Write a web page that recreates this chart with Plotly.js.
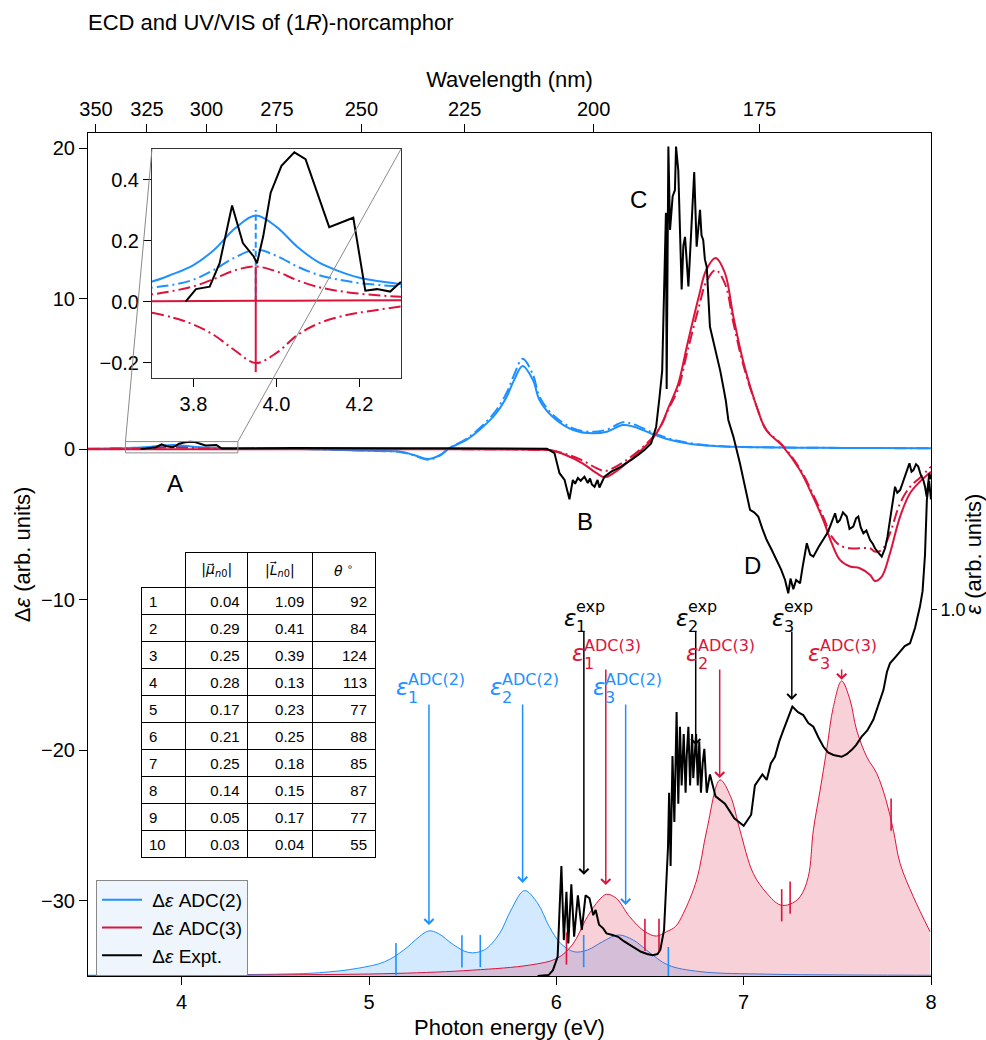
<!DOCTYPE html>
<html><head><meta charset="utf-8">
<script src="https://cdn.plot.ly/plotly-3.0.1.min.js"></script>
<style>html,body{margin:0;padding:0;background:#fff}</style>
</head><body><div id="chart" style="width:986px;height:1040px"></div>
<script>
// ---------------- DATA ----------------
// ECD (Δε, left axis) : [photon energy eV, value]
const ecdAdc2 = [[3.5,0.03],[3.6,0.045],[3.7,0.066],[3.75,0.09],[3.8,0.12],[3.85,0.17],[3.9,0.24],[3.95,0.282],[4.0,0.245],[4.05,0.18],[4.1,0.13],[4.15,0.1],[4.2,0.078],[4.3,0.057],[4.5,0.03],[4.7,0.0],[4.9,-0.07],[5.05,-0.12],[5.17,-0.18],[5.24,-0.39],[5.315,-0.66],[5.38,-0.39],[5.43,0.07],[5.52,0.61],[5.61,1.5],[5.68,2.4],[5.735,3.48],[5.775,4.6],[5.82,5.52],[5.875,4.6],[5.91,3.26],[5.98,2.15],[6.09,1.27],[6.195,1.05],[6.27,1.16],[6.355,1.6],[6.41,1.5],[6.5,1.07],[6.59,0.67],[6.68,0.43],[6.77,0.27],[6.9,0.17],[7.1,0.12],[7.4,0.09],[7.7,0.07],[8.0,0.06]];
const ecdAdc2Vel = [[3.5,0.02],[3.6,0.03],[3.7,0.046],[3.75,0.055],[3.8,0.072],[3.85,0.105],[3.9,0.145],[3.95,0.17],[4.0,0.15],[4.05,0.115],[4.1,0.088],[4.15,0.072],[4.2,0.061],[4.3,0.049],[4.5,0.03],[4.7,0.0],[4.9,-0.07],[5.05,-0.12],[5.17,-0.2],[5.24,-0.42],[5.315,-0.7],[5.38,-0.42],[5.43,0.08],[5.52,0.68],[5.61,1.62],[5.68,2.6],[5.735,3.75],[5.775,4.95],[5.82,6.0],[5.875,4.95],[5.91,3.5],[5.98,2.3],[6.09,1.38],[6.195,1.15],[6.27,1.3],[6.355,1.78],[6.41,1.66],[6.5,1.18],[6.59,0.74],[6.68,0.47],[6.77,0.3],[6.9,0.18],[7.1,0.12],[7.4,0.09],[7.7,0.07],[8.0,0.06]];
const ecdAdc3 = [[3.5,0],[5.5,0],[5.8,-0.02],[5.9,-0.04],[5.97,-0.08],[6.05,-0.39],[6.14,-0.94],[6.215,-1.6],[6.26,-1.87],[6.305,-1.6],[6.375,-0.94],[6.445,-0.16],[6.515,0.72],[6.56,1.6],[6.6,2.8],[6.65,4.3],[6.7,7.0],[6.76,10.1],[6.8,11.9],[6.85,12.7],[6.9,11.7],[6.945,8.8],[7.0,5.7],[7.07,2.8],[7.12,1.27],[7.21,0.17],[7.3,-1.39],[7.37,-3.16],[7.425,-4.71],[7.47,-6.25],[7.514,-7.36],[7.568,-7.8],[7.62,-7.91],[7.675,-8.36],[7.70,-8.76],[7.737,-8.47],[7.781,-6.92],[7.835,-4.48],[7.888,-2.93],[7.941,-2.16],[8.0,-1.5]];
const ecdAdc3Vel = [[3.5,0.01],[3.6,0.016],[3.7,0.024],[3.75,0.035],[3.8,0.05],[3.85,0.075],[3.9,0.103],[3.95,0.115],[4.0,0.099],[4.05,0.07],[4.1,0.048],[4.15,0.035],[4.2,0.026],[4.3,0.016],[4.6,0.005],[5.5,0],[5.8,-0.02],[5.9,-0.04],[5.97,-0.07],[6.05,-0.32],[6.14,-0.75],[6.215,-1.27],[6.26,-1.45],[6.305,-1.25],[6.375,-0.72],[6.445,-0.05],[6.515,0.8],[6.56,1.6],[6.6,2.7],[6.65,4.0],[6.7,6.5],[6.76,9.4],[6.8,11.1],[6.85,11.9],[6.9,11.0],[6.945,8.4],[7.0,5.5],[7.07,2.8],[7.12,1.3],[7.21,0.22],[7.3,-1.3],[7.37,-3.0],[7.425,-4.5],[7.47,-5.81],[7.514,-6.4],[7.568,-6.59],[7.62,-6.59],[7.675,-6.59],[7.70,-6.8],[7.737,-6.7],[7.781,-5.59],[7.835,-3.6],[7.888,-2.5],[7.941,-1.9],[8.0,-1.16]];
const ecdAdc3Mix = [[3.7,-0.036],[3.75,-0.052],[3.8,-0.075],[3.85,-0.11],[3.9,-0.16],[3.95,-0.201],[4.0,-0.168],[4.05,-0.11],[4.1,-0.072],[4.15,-0.05],[4.2,-0.036],[4.3,-0.016]];
const ecdExpt = [[3.781,0.0],[3.806,0.041],[3.839,0.049],[3.863,0.126],[3.893,0.315],[3.919,0.192],[3.945,0.148],[3.953,0.126],[3.968,0.214],[3.986,0.357],[4.012,0.445],[4.043,0.489],[4.07,0.467],[4.097,0.363],[4.127,0.244],[4.185,0.275],[4.214,0.036],[4.242,0.041],[4.274,0.033],[4.298,0.063],[4.4,0.05],[4.6,0.07],[4.8,0.05],[5.0,0.06],[5.2,0.05],[5.4,0.06],[5.6,0.05],[5.8,0.05],[5.95,0.03],[5.99,-0.26],[6.017,-1.6],[6.044,-2.05],[6.07,-3.33],[6.088,-2.05],[6.10,-2.3],[6.115,-1.92],[6.13,-2.1],[6.15,-1.83],[6.168,-2.25],[6.18,-1.95],[6.19,-2.35],[6.204,-2.5],[6.22,-2.05],[6.23,-2.55],[6.24,-2.27],[6.257,-1.83],[6.293,-1.5],[6.32,-1.35],[6.346,-1.16],[6.37,-0.95],[6.4,-0.72],[6.44,-0.35],[6.47,-0.06],[6.506,0.38],[6.533,1.49],[6.551,3.48],[6.565,5.2],[6.578,12.0],[6.585,15.7],[6.589,4.0],[6.598,20.1],[6.607,14.56],[6.616,16.1],[6.621,16.8],[6.633,17.2],[6.639,20.1],[6.651,18.5],[6.66,14.0],[6.669,10.6],[6.678,13.5],[6.687,14.1],[6.696,12.5],[6.705,10.8],[6.714,13.0],[6.722,15.0],[6.736,18.4],[6.749,13.45],[6.758,14.5],[6.767,15.9],[6.775,14.2],[6.784,13.9],[6.793,12.6],[6.803,12.1],[6.82,8.13],[6.838,7.2],[6.856,6.14],[6.875,5.2],[6.891,4.15],[6.905,3.2],[6.918,1.94],[6.945,0.83],[6.98,-0.94],[7.01,-2.6],[7.034,-4.04],[7.056,-4.2],[7.078,-4.48],[7.1,-5.3],[7.123,-6.04],[7.15,-6.7],[7.176,-7.36],[7.2,-8.0],[7.221,-8.69],[7.238,-9.58],[7.25,-8.6],[7.265,-9.3],[7.28,-8.69],[7.301,-8.91],[7.315,-7.8],[7.328,-6.92],[7.337,-6.25],[7.355,-7.0],[7.372,-7.14],[7.4,-6.5],[7.425,-6.04],[7.445,-5.6],[7.461,-5.15],[7.488,-4.26],[7.5,-4.9],[7.514,-4.71],[7.53,-4.2],[7.55,-4.48],[7.565,-5.3],[7.585,-5.15],[7.6,-4.6],[7.612,-4.48],[7.625,-5.2],[7.639,-5.59],[7.655,-5.4],[7.675,-6.04],[7.69,-6.3],[7.701,-6.59],[7.72,-6.9],[7.737,-7.14],[7.755,-6.59],[7.768,-5.8],[7.781,-4.71],[7.795,-3.4],[7.808,-2.5],[7.82,-2.9],[7.835,-2.72],[7.85,-2.2],[7.862,-1.83],[7.875,-1.3],[7.885,-0.94],[7.896,-1.5],[7.906,-1.39],[7.92,-1.0],[7.932,-1.16],[7.945,-1.7],[7.959,-2.05],[7.968,-2.5],[7.977,-3.16],[7.985,-2.2],[7.991,-1.61],[8.0,-2.0]];
// inset sticks for state 1
const stick1Energy = 3.95;
const stick1Adc2 = 0.30;
const stick1Adc3 = [-0.231, 0.115];

// UV/VIS (ε, right axis)
const uvAdc2 = [[3.5,0.002],[4.0,0.003],[4.5,0.005],[4.736,0.009],[4.94,0.021],[5.084,0.039],[5.186,0.071],[5.268,0.107],[5.319,0.123],[5.37,0.116],[5.452,0.085],[5.533,0.064],[5.615,0.071],[5.697,0.116],[5.758,0.18],[5.83,0.233],[5.901,0.198],[5.962,0.135],[6.023,0.089],[6.095,0.066],[6.166,0.071],[6.248,0.094],[6.33,0.112],[6.411,0.098],[6.493,0.066],[6.596,0.03],[6.767,0.012],[7.123,0.005],[7.5,0.003],[8.0,0.002]];
const uvAdc3 = [[3.5,0.001],[4.5,0.003],[5.144,0.007],[5.554,0.016],[5.86,0.03],[6.003,0.048],[6.085,0.085],[6.166,0.162],[6.228,0.207],[6.268,0.223],[6.32,0.212],[6.391,0.162],[6.473,0.121],[6.534,0.109],[6.589,0.121],[6.636,0.135],[6.678,0.171],[6.749,0.262],[6.803,0.398],[6.874,0.535],[6.93,0.49],[6.98,0.398],[7.051,0.28],[7.123,0.226],[7.194,0.194],[7.248,0.196],[7.301,0.216],[7.345,0.271],[7.372,0.398],[7.408,0.507],[7.443,0.617],[7.479,0.735],[7.523,0.805],[7.568,0.753],[7.603,0.671],[7.657,0.598],[7.71,0.553],[7.76,0.48],[7.799,0.398],[7.835,0.307],[7.906,0.216],[7.995,0.121]];
const uvExpt = [[5.9,0.0],[5.96,0.003],[5.982,0.016],[6.007,0.053],[6.02,0.216],[6.027,0.3],[6.04,0.098],[6.054,0.23],[6.064,0.089],[6.08,0.25],[6.095,0.107],[6.115,0.22],[6.136,0.126],[6.156,0.22],[6.177,0.212],[6.197,0.166],[6.21,0.18],[6.228,0.14],[6.25,0.13],[6.268,0.116],[6.3,0.112],[6.33,0.107],[6.36,0.095],[6.391,0.085],[6.42,0.075],[6.452,0.066],[6.485,0.06],[6.514,0.057],[6.54,0.06],[6.555,0.071],[6.575,0.126],[6.588,0.28],[6.596,0.35],[6.602,0.5],[6.61,0.30],[6.62,0.6],[6.63,0.42],[6.642,0.72],[6.651,0.47],[6.66,0.68],[6.669,0.52],[6.68,0.66],[6.69,0.5],[6.696,0.6],[6.705,0.68],[6.714,0.52],[6.725,0.66],[6.731,0.54],[6.746,0.66],[6.755,0.52],[6.763,0.64],[6.772,0.5],[6.781,0.58],[6.79,0.62],[6.803,0.5],[6.82,0.55],[6.85,0.49],[6.9,0.47],[6.95,0.43],[7.0,0.41],[7.04,0.44],[7.06,0.52],[7.1,0.55],[7.123,0.535],[7.145,0.58],[7.167,0.598],[7.19,0.64],[7.212,0.671],[7.235,0.7],[7.26,0.735],[7.29,0.72],[7.318,0.712],[7.345,0.69],[7.372,0.68],[7.4,0.65],[7.425,0.626],[7.45,0.61],[7.479,0.603],[7.523,0.598],[7.55,0.605],[7.577,0.617],[7.6,0.63],[7.63,0.653],[7.66,0.67],[7.692,0.699],[7.72,0.74],[7.746,0.78],[7.765,0.83],[7.781,0.853],[7.81,0.87],[7.835,0.885],[7.86,0.9],[7.888,0.908],[7.915,0.95],[7.941,1.008],[7.955,1.05],[7.968,1.15],[7.978,1.3],[7.99,1.35],[8.0,1.3]];
// bar markers on the UV curves: energies and curve value at the marker
const markAdc2E = [5.144, 5.496, 5.594, 6.146, 6.598];
const markAdc2V = [0.046, 0.067, 0.068, 0.068, 0.035];
const markAdc3E = [6.054, 6.473, 6.548, 7.203, 7.248, 7.787];
const markAdc3V = [0.075, 0.112, 0.112, 0.193, 0.214, 0.44];

// transitions (arrows): energy and UV value the arrow points to
const transExpE = [6.147, 6.744, 7.257];
const transExpTip = [0.276, 0.630, 0.753];
const transAdc3E = [6.264, 6.872, 7.523];
const transAdc3Tip = [0.248, 0.540, 0.808];
const transAdc2E = [5.32, 5.82, 6.37];
const transAdc2Tip = [0.139, 0.254, 0.194];

// table
const stateIdx = [1,2,3,4,5,6,7,8,9,10];
const muN0 = [0.04,0.29,0.25,0.28,0.17,0.21,0.25,0.14,0.05,0.03];
const lN0 = [1.09,0.41,0.39,0.13,0.23,0.25,0.18,0.15,0.17,0.04];
const thetaDeg = [92,84,124,113,77,88,85,87,77,55];
const tableHeader = ['', '|<i>μ⃗</i><sub><i>n</i>0</sub>|', '|<i>L⃗</i><sub><i>n</i>0</sub>|', '<i>θ</i> <sup>∘</sup>'];

// ticks
const energyTicks = [4,5,6,7,8];
const wavelengthTicks = [350,325,300,275,250,225,200,175];
const ecdTicks = [-30,-20,-10,0,10,20];
const uvTicks = [1.0];
const insetXTicks = [3.8,4.0,4.2];
const insetYTicks = [-0.2,0.0,0.2,0.4];

// ---------------- STYLE / LAYOUT ----------------
const FONT = 'Liberation Sans, Arial, Helvetica, sans-serif';
const MATH = 'DejaVu Sans, sans-serif';
const BLUE = '#1e90ff', RED = '#dc143c', BLACK = '#000000';
const X_RANGE = [3.5, 8], Y_RANGE = [-35, 21], Y2_RANGE = [0, 2.3];
const IN_X = [3.7, 4.3], IN_Y = [-0.25, 0.5];
const IN_DOMX = [0.0759, 0.3713], IN_DOMY = [0.7094, 0.981];
const DD = '12px,4px,2px,4px';
const MARK_HALF = 0.044;
const TICK = 20, TITLE = 22;
const NB = '\u00a0';

const xs = p => p.map(d => d[0]);
const ys = p => p.map(d => d[1]);
const skip = {hoverinfo:'skip'};

function markTrace(E, V, color) {
  const x = [], y = [];
  E.forEach((e, i) => { x.push(e, e, null); y.push(V[i] - MARK_HALF, V[i] + MARK_HALF, null); });
  return Object.assign({type:'scatter', mode:'lines', x, y, xaxis:'x', yaxis:'y2', line:{color, width:1.6}, showlegend:false}, skip);
}

const traces = [];
// UV fills (right axis)
traces.push(Object.assign({type:'scatter', mode:'lines', x:xs(uvAdc2), y:ys(uvAdc2), xaxis:'x', yaxis:'y2', line:{color:BLUE, width:1, shape:'spline'}, fill:'tozeroy', fillcolor:'rgba(30,144,255,0.2)', showlegend:false}, skip));
traces.push(Object.assign({type:'scatter', mode:'lines', x:xs(uvAdc3), y:ys(uvAdc3), xaxis:'x', yaxis:'y2', line:{color:RED, width:1, shape:'spline'}, fill:'tozeroy', fillcolor:'rgba(220,20,60,0.2)', showlegend:false}, skip));
traces.push(markTrace(markAdc2E, markAdc2V, BLUE));
traces.push(markTrace(markAdc3E, markAdc3V, RED));
traces.push(Object.assign({type:'scatter', mode:'lines', x:xs(uvExpt), y:ys(uvExpt), xaxis:'x', yaxis:'y2', line:{color:BLACK, width:2}, showlegend:false}, skip));

// ECD (left axis)
function ecdTraces(xa, ya, legend) {
  return [
    Object.assign({type:'scatter', mode:'lines', x:xs(ecdAdc2Vel), y:ys(ecdAdc2Vel), xaxis:xa, yaxis:ya, line:{color:BLUE, width:2, dash:DD, shape:'spline'}, showlegend:false}, skip),
    Object.assign({type:'scatter', mode:'lines', name:NB + 'Δ<i>ε</i> ADC(2)', x:xs(ecdAdc2), y:ys(ecdAdc2), xaxis:xa, yaxis:ya, line:{color:BLUE, width:2, shape:'spline'}, showlegend:legend}, skip),
    Object.assign({type:'scatter', mode:'lines', x:xs(ecdAdc3Vel), y:ys(ecdAdc3Vel), xaxis:xa, yaxis:ya, line:{color:RED, width:2, dash:DD, shape:'spline'}, showlegend:false}, skip),
    Object.assign({type:'scatter', mode:'lines', name:NB + 'Δ<i>ε</i> ADC(3)', x:xs(ecdAdc3), y:ys(ecdAdc3), xaxis:xa, yaxis:ya, line:{color:RED, width:2, shape:'spline'}, showlegend:legend}, skip),
    Object.assign({type:'scatter', mode:'lines', name:NB + 'Δ<i>ε</i> Expt.', x:xs(ecdExpt), y:ys(ecdExpt), xaxis:xa, yaxis:ya, line:{color:BLACK, width:2}, showlegend:legend}, skip)
  ];
}
ecdTraces('x', 'y', true).forEach(t => traces.push(t));

// invisible trace carrying the wavelength axis
traces.push(Object.assign({type:'scatter', mode:'lines', x:wavelengthTicks.map(l => 1239.84 / l), y:wavelengthTicks.map(() => 0), xaxis:'x2', yaxis:'y', line:{width:0, color:'rgba(0,0,0,0)'}, showlegend:false}, skip));

// inset
traces.push(Object.assign({type:'scatter', mode:'lines', x:[stick1Energy, stick1Energy], y:[0, stick1Adc2], xaxis:'x3', yaxis:'y3', line:{color:BLUE, width:2, dash:'6px,3px'}, showlegend:false}, skip));
ecdTraces('x3', 'y3', false).forEach(t => traces.push(t));
traces.push(Object.assign({type:'scatter', mode:'lines', x:xs(ecdAdc3Mix), y:ys(ecdAdc3Mix), xaxis:'x3', yaxis:'y3', line:{color:RED, width:2, dash:DD, shape:'spline'}, showlegend:false}, skip));
traces.push(Object.assign({type:'scatter', mode:'lines', x:[stick1Energy, stick1Energy], y:stick1Adc3, xaxis:'x3', yaxis:'y3', line:{color:RED, width:2}, showlegend:false}, skip));

// table
traces.push({
  type:'table',
  domain:{x:[0.0629, 0.3416], y:[0.13, 0.5018]},
  columnwidth:[45, 62, 65, 63],
  header:{
    values:tableHeader,
    align:'center', height:26,
    line:{color:['rgba(0,0,0,0)', BLACK, BLACK, BLACK], width:1},
    fill:{color:'white'}, font:{family:MATH, size:14, color:BLACK}
  },
  cells:{
    values:[stateIdx, muN0, lN0, thetaDeg],
    format:['d', '.2f', '.2f', 'd'],
    align:['left', 'right', 'right', 'right'], height:27,
    line:{color:BLACK, width:1}, fill:{color:'white'},
    font:{family:FONT, size:15, color:BLACK}
  }
});

// annotations
const ann = [];
const letters = [['A', 3.964, -2.25], ['B', 6.153, -4.84], ['C', 6.441, 16.55], ['D', 7.045, -7.76]];
letters.forEach(l => ann.push({x:l[1], y:l[2], xref:'x', yref:'y', text:l[0], showarrow:false, font:{family:FONT, size:24, color:BLACK}}));

const groups = [
  {E:transExpE, tip:transExpTip, sup:'exp', color:BLACK, tail:0.944, epsX:-8, supX:-8, epsY:12, supY:24, subY:4},
  {E:transAdc3E, tip:transAdc3Tip, sup:'ADC(3)', color:RED, tail:0.840, epsX:-22, supX:-22, epsY:15, supY:23, subY:5},
  {E:transAdc2E, tip:transAdc2Tip, sup:'ADC(2)', color:BLUE, tail:0.745, epsX:-21, supX:-21, epsY:16, supY:23, subY:5}
];
const lbl = {showarrow:false, borderpad:0, borderwidth:0, xref:'x', yref:'y2', yanchor:'middle'};
groups.forEach(g => {
  g.E.forEach((e, i) => {
    ann.push({x:e, y:g.tip[i], xref:'x', yref:'y2', ax:e, ay:g.tail, axref:'x', ayref:'y2', text:'', showarrow:true,
              arrowhead:4, arrowsize:1.2, arrowwidth:1.5, arrowcolor:g.color, standoff:0, startstandoff:0});
    ann.push(Object.assign({x:e, y:g.tail, text:'<i>ε</i>', xanchor:'right', xshift:g.epsX, yshift:g.epsY, font:{family:MATH, size:23, color:g.color}}, lbl));
    ann.push(Object.assign({x:e, y:g.tail, text:g.sup, xanchor:'left', xshift:g.supX, yshift:g.supY, font:{family:MATH, size:16, color:g.color}}, lbl));
    ann.push(Object.assign({x:e, y:g.tail, text:String(i + 1), xanchor:'left', xshift:g.supX, yshift:g.subY, font:{family:MATH, size:16, color:g.color}}, lbl));
  });
});
// right axis title
ann.push({xref:'paper', yref:'paper', x:1 + 42 / 843, y:0.5, text:'<i>ε</i> (arb. units)', textangle:-90, showarrow:false,
          xanchor:'center', yanchor:'middle', font:{family:FONT, size:TITLE, color:BLACK}});

// zoom indicator
const px = e => (e - X_RANGE[0]) / (X_RANGE[1] - X_RANGE[0]);
const py = v => (v - Y_RANGE[0]) / (Y_RANGE[1] - Y_RANGE[0]);
const GREY = '#8a8a8a';
const shapes = [
  {type:'rect', xref:'x', yref:'y', x0:IN_X[0], x1:IN_X[1], y0:IN_Y[0], y1:IN_Y[1], line:{color:GREY, width:1}, layer:'above'},
  {type:'line', xref:'paper', yref:'paper', x0:px(IN_X[0]), y0:py(IN_Y[1]), x1:IN_DOMX[0], y1:IN_DOMY[1], line:{color:GREY, width:1}, layer:'above'},
  {type:'line', xref:'paper', yref:'paper', x0:px(IN_X[1]), y0:py(IN_Y[1]), x1:IN_DOMX[1], y1:IN_DOMY[1], line:{color:GREY, width:1}, layer:'above'}
];

const axBase = {showgrid:false, zeroline:false, showline:true, linecolor:BLACK, linewidth:1, ticks:'outside', ticklen:8, tickwidth:1, tickcolor:BLACK, tickfont:{family:FONT, size:TICK, color:BLACK}};

const layout = {
  width:986, height:1040,
  margin:{l:88, r:55, t:133, b:64, autoexpand:false},
  paper_bgcolor:'white', plot_bgcolor:'white',
  font:{family:FONT, size:TICK, color:BLACK},
  title:{text:'ECD and UV/VIS of (1<i>R</i>)-norcamphor', xref:'container', yref:'container', x:88/986, xanchor:'left', y:1 - 22/1040, yanchor:'middle', font:{family:FONT, size:TITLE, color:BLACK}},
  xaxis:Object.assign({}, axBase, {domain:[0,1], anchor:'y', range:X_RANGE, tickvals:energyTicks, ticktext:energyTicks.map(String), title:{text:'Photon energy (eV)', standoff:8, font:{size:TITLE}}}),
  xaxis2:Object.assign({}, axBase, {overlaying:'x', side:'top', anchor:'y', range:X_RANGE, tickvals:wavelengthTicks.map(l => 1239.84 / l), ticktext:wavelengthTicks.map(String), title:{text:'Wavelength (nm)', standoff:4, font:{size:TITLE}}}),
  yaxis:Object.assign({}, axBase, {domain:[0,1], anchor:'x', range:Y_RANGE, tickvals:ecdTicks, title:{text:'Δ<i>ε</i> (arb. units)', standoff:4, font:{size:TITLE}}}),
  yaxis2:Object.assign({}, axBase, {overlaying:'y', side:'right', anchor:'x', range:Y2_RANGE, tickvals:uvTicks, ticktext:uvTicks.map(v => v.toFixed(1)), ticklen:5, tickfont:{family:FONT, size:18, color:BLACK}}),
  xaxis3:Object.assign({}, axBase, {domain:IN_DOMX, anchor:'y3', range:IN_X, tickvals:insetXTicks, ticktext:insetXTicks.map(v => v.toFixed(1)), mirror:true, linecolor:'#333'}),
  yaxis3:Object.assign({}, axBase, {domain:IN_DOMY, anchor:'x3', range:IN_Y, tickvals:insetYTicks, tickformat:'.1f', mirror:true, linecolor:'#333'}),
  legend:{x:0.0095, y:0.1139, xanchor:'left', yanchor:'top', bgcolor:'#eef5fd', bordercolor:'#888', borderwidth:1, font:{family:FONT, size:19, color:BLACK}, traceorder:'normal', itemwidth:40},
  showlegend:true,
  annotations:ann,
  shapes:shapes
};

Plotly.newPlot('chart', traces, layout, {displayModeBar:false, staticPlot:true});
</script></body></html>
